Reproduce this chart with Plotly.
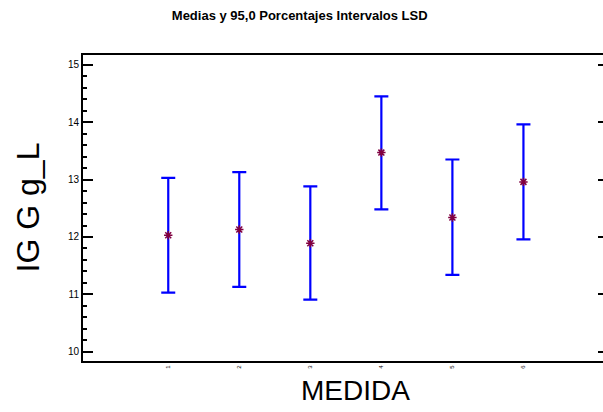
import plotly.graph_objects as go

categories = ["1", "2", "3", "4", "5", "6"]
positions = [1, 2, 3, 4, 5, 6]
means = [12.03, 12.13, 11.89, 13.47, 12.34, 12.96]
upper = [13.03, 13.13, 12.88, 14.45, 13.35, 13.96]
lower = [11.03, 11.13, 10.91, 12.48, 11.34, 11.96]

err_plus = [u - m for u, m in zip(upper, means)]
err_minus = [m - l for m, l in zip(means, lower)]

fig = go.Figure()
fig.add_trace(go.Scatter(
    x=positions, y=means, mode="markers",
    marker=dict(symbol="asterisk", size=7, color="#800040",
                line=dict(color="#800040", width=1.5)),
    error_y=dict(type="data", symmetric=False, array=err_plus, arrayminus=err_minus,
                 color="#0000FF", thickness=2.2, width=7),
    showlegend=False,
))
# invisible trace for right-side ticks
fig.add_trace(go.Scatter(x=positions, y=means, yaxis="y2", mode="markers",
                         marker=dict(opacity=0), showlegend=False, hoverinfo="skip"))

yr = [9.84, 15.17]
fig.update_layout(
    width=603, height=412,
    margin=dict(l=83, r=0, t=55, b=51),
    paper_bgcolor="white", plot_bgcolor="white",
    font=dict(family="Liberation Sans, Arial, sans-serif", color="black"),
    title=dict(text="<b>Medias y 95,0 Porcentajes Intervalos LSD</b>",
               x=0.497, xanchor="center", y=0.962, yanchor="middle",
               font=dict(size=13, color="black")),
    xaxis=dict(range=[-0.2, 7.12], tickvals=positions, ticktext=categories,
               tickangle=-90, tickfont=dict(size=6), showgrid=False, zeroline=False,
               showline=True, linecolor="black", linewidth=2, mirror=True, ticks=""),
    yaxis=dict(range=yr, tickvals=[10, 11, 12, 13, 14, 15], tickfont=dict(size=10),
               showgrid=False, zeroline=False, showline=True, linecolor="black",
               linewidth=2, ticks="inside", ticklen=10, tickwidth=2, tickcolor="black",
               minor=dict(dtick=0.2, ticks="inside", ticklen=4, tickwidth=2,
                          tickcolor="black", showgrid=False)),
    yaxis2=dict(range=yr, overlaying="y", side="right", tickvals=[10, 11, 12, 13, 14, 15],
                showticklabels=False, ticks="inside", ticklen=5, tickwidth=2,
                tickcolor="black", showgrid=False, zeroline=False, showline=False),
    annotations=[
        dict(text="MEDIDA", xref="paper", yref="paper", x=(355 - 83) / 520, y=-(390 - 361) / 306,
             xanchor="center", yanchor="middle", showarrow=False, font=dict(size=28)),
        dict(text="IG G g_L", xref="paper", yref="paper", x=-(83 - 28) / 520, y=0.502,
             xanchor="center", yanchor="middle", textangle=-90, showarrow=False,
             font=dict(size=32)),
    ],
)

fig.write_html("out.html")
